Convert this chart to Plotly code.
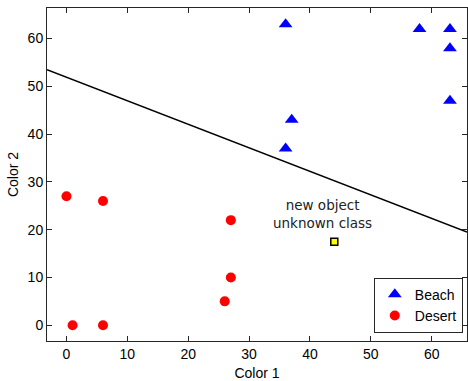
import plotly.graph_objects as go

beach_x = [36, 58, 63, 63, 63, 37, 36]
beach_y = [63, 62, 62, 58, 47, 43, 37]
desert_x = [0, 6, 27, 27, 26, 1, 6]
desert_y = [27, 26, 22, 10, 5, 0, 0]
new_x = [44]
new_y = [17.5]
line_x = [-3.2, 65.8]
line_y = [53.5, 19.5]
x_ticks = [0, 10, 20, 30, 40, 50, 60]
y_ticks = [0, 10, 20, 30, 40, 50, 60]

fig = go.Figure()
fig.add_trace(go.Scatter(x=line_x, y=line_y, mode="lines",
                         line=dict(color="black", width=1.5), showlegend=False))
fig.add_trace(go.Scatter(x=beach_x, y=beach_y, mode="markers", name="Beach",
                         marker=dict(symbol="triangle-up", size=12, color="#0000ff")))
fig.add_trace(go.Scatter(x=desert_x, y=desert_y, mode="markers", name="Desert",
                         marker=dict(symbol="circle", size=10, color="#ff0000")))
fig.add_trace(go.Scatter(x=new_x, y=new_y, mode="markers", showlegend=False,
                         marker=dict(symbol="square", size=7, color="#ffff00",
                                     line=dict(color="black", width=1.5))))

fig.add_annotation(x=42, y=23.3, text="new object<br>unknown class", showarrow=False,
                   font=dict(family="DejaVu Sans", size=13.5, color="#222222"),
                   xanchor="center", yanchor="middle")

axis_common = dict(showgrid=False, zeroline=False, showline=True, linecolor="#262626",
                   linewidth=1, mirror="ticks", ticks="inside", ticklen=5,
                   tickcolor="#262626",
                   tickfont=dict(family="Liberation Sans", size=14, color="black"))
fig.update_xaxes(range=[-3.2, 65.8], tickvals=x_ticks,
                 title=dict(text="Color 1", font=dict(family="Liberation Sans", size=14, color="black"),
                            standoff=8), **axis_common)
fig.update_yaxes(range=[-3.3, 66.4], tickvals=y_ticks,
                 title=dict(text="Color 2", font=dict(family="Liberation Sans", size=14, color="black"),
                            standoff=5), **axis_common)

fig.update_layout(
    width=468, height=381,
    margin=dict(l=47, r=1, t=8, b=40),
    plot_bgcolor="white", paper_bgcolor="white",
    legend=dict(x=0.99, y=0.025, xanchor="right", yanchor="bottom",
                bgcolor="white", bordercolor="#262626", borderwidth=1,
                font=dict(family="Liberation Sans", size=14, color="black"),
                itemwidth=30, tracegroupgap=0),
)
fig.write_html("out.html")
